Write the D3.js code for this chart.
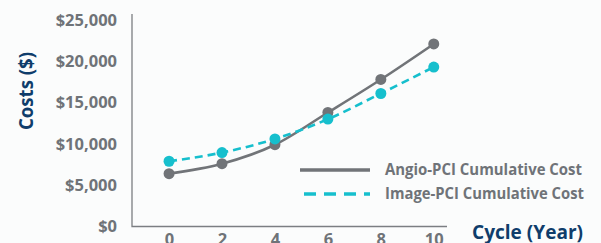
<!DOCTYPE html>
<html>
<head>
<meta charset="utf-8">
<script src="https://cdn.jsdelivr.net/npm/d3@7"></script>
<style>
  body { margin: 0; background: #fbfcfc; }
  svg { display: block; font-family: "Open Sans", sans-serif; font-weight: 700; }
</style>
</head>
<body>
<div id="wrapper"></div>
<script>
const years = [0, 2, 4, 6, 8, 10]
const angioCost = [6400, 7600, 9900, 13800, 17800, 22100]
const imageCost = [7900, 8950, 10600, 13000, 16100, 19300]
const yTicks = [0, 5000, 10000, 15000, 20000, 25000]
const seriesNames = ["Angio-PCI Cumulative Cost", "Image-PCI Cumulative Cost"]

const gray = "#717478"
const cyan = "#16bfcd"
const navy = "#0f3d6b"
const labelGray = "#6f7378"

const width = 601
const height = 243

const svg = d3.select("#wrapper")
  .append("svg")
  .attr("width", width)
  .attr("height", height)

// scales
const xScale = d3.scaleLinear()
  .domain([-1.4, 10.5])
  .range([132, 447])

const yScale = d3.scaleLinear()
  .domain([0, 25000])
  .range([226.5, 20])

// axes
const yAxis = svg.append("g")
  .attr("transform", `translate(${xScale.range()[0]},0)`)
  .call(d3.axisLeft(yScale).tickValues(yTicks).tickSize(0).tickPadding(15)
    .tickFormat(d => "$" + d3.format(",")(d)))
yAxis.select(".domain").remove()
yAxis.selectAll("text")
  .attr("fill", labelGray)
  .style("font-size", "16.5px")
  .style("font-family", "'Open Sans', sans-serif")
  .style("font-weight", 700)

const xAxis = svg.append("g")
  .attr("transform", `translate(0,${yScale(0)})`)
  .call(d3.axisBottom(xScale).tickValues(years).tickSize(0).tickPadding(7))
xAxis.select(".domain").remove()
xAxis.selectAll("text")
  .attr("fill", labelGray)
  .style("font-size", "16.5px")
  .style("font-family", "'Open Sans', sans-serif")
  .style("font-weight", 700)

// axis lines (left + bottom)
svg.append("path")
  .attr("d", `M${xScale.range()[0]},14 V${yScale(0)} H${xScale.range()[1]}`)
  .attr("fill", "none")
  .attr("stroke", "#7b7e82")
  .attr("stroke-width", 1.3)

// axis titles
svg.append("text")
  .attr("transform", `translate(33,91) rotate(-90)`)
  .attr("text-anchor", "middle")
  .attr("fill", navy)
  .style("font-size", "19px")
  .attr("textLength", 78)
  .attr("lengthAdjust", "spacingAndGlyphs")
  .text("Costs ($)")

svg.append("text")
  .attr("x", 583)
  .attr("y", 239)
  .attr("text-anchor", "end")
  .attr("fill", navy)
  .style("font-size", "19.5px")
  .attr("textLength", 111)
  .attr("lengthAdjust", "spacingAndGlyphs")
  .text("Cycle (Year)")

// lines
const line = d3.line()
  .x((d, i) => xScale(years[i]))
  .y(d => yScale(d))
  .curve(d3.curveMonotoneX)

svg.append("path")
  .attr("d", line(angioCost))
  .attr("fill", "none")
  .attr("stroke", gray)
  .attr("stroke-width", 2.6)

svg.append("path")
  .attr("d", line(imageCost))
  .attr("fill", "none")
  .attr("stroke", cyan)
  .attr("stroke-width", 2.6)
  .attr("stroke-dasharray", "8 5")

svg.append("g").selectAll("circle")
  .data(angioCost)
  .join("circle")
  .attr("cx", (d, i) => xScale(years[i]))
  .attr("cy", d => yScale(d))
  .attr("r", 5.5)
  .attr("fill", gray)

svg.append("g").selectAll("circle")
  .data(imageCost)
  .join("circle")
  .attr("cx", (d, i) => xScale(years[i]))
  .attr("cy", d => yScale(d))
  .attr("r", 5.5)
  .attr("fill", cyan)

// legend
const legend = svg.append("g")
const legendRows = [
  { name: seriesNames[0], color: gray, dash: null, y: 170, len: 197 },
  { name: seriesNames[1], color: cyan, dash: "12 8", y: 194, len: 199 },
]
legendRows.forEach(r => {
  legend.append("line")
    .attr("x1", r.dash ? 304 : 300)
    .attr("x2", 370)
    .attr("y1", r.y)
    .attr("y2", r.y)
    .attr("stroke", r.color)
    .attr("stroke-width", 3.5)
    .attr("stroke-dasharray", r.dash)
  legend.append("text")
    .attr("x", 385)
    .attr("y", r.y)
    .attr("dy", "0.33em")
    .attr("fill", labelGray)
    .style("font-size", "15.5px")
    .attr("textLength", r.len)
    .attr("lengthAdjust", "spacingAndGlyphs")
    .text(r.name)
})
</script>
</body>
</html>
